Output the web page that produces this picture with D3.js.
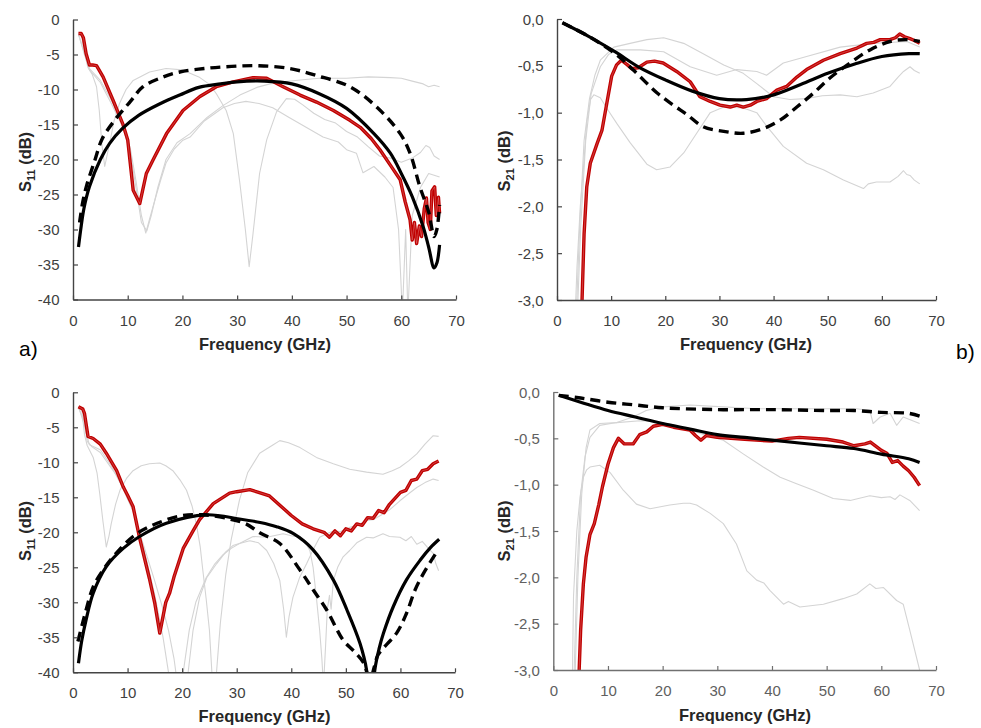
<!DOCTYPE html>
<html><head><meta charset="utf-8">
<script src="https://cdn.jsdelivr.net/npm/d3@7"></script>
<style>
body{margin:0;background:#fff}
svg{display:block}
text{font-family:"Liberation Sans",Arial,sans-serif}
</style>
</head><body>
<svg id="chart" width="981" height="728"></svg>
<script>
// ---------------- DATA (frequency GHz, value dB) ----------------
const xTicks = [0,10,20,30,40,50,60,70];
const s11Ticks = [-40,-35,-30,-25,-20,-15,-10,-5,0];
const s21Ticks = [-3,-2.5,-2,-1.5,-1,-0.5,0];

// Panel a) S11
const a_red = [[1,-2],[1.5,-2],[1.9,-2.6],[2.4,-4.9],[3,-6.5],[3.6,-6.5],[4.3,-6.6],[5.5,-8.2],[7.3,-11.5],[9.1,-14.9],[10,-17.2],[11,-24.4],[12.2,-26.3],[13.4,-22],[14.6,-20.1],[17.1,-16.3],[20.1,-13],[23.2,-11],[26.2,-9.6],[29.3,-8.9],[32.9,-8.3],[35.4,-8.4],[38.4,-9.6],[41.5,-10.8],[44.5,-11.8],[47.6,-13],[50.6,-14.4],[52.5,-15.4],[54.5,-17],[56.1,-18.6],[58,-20.8],[59.8,-22.9],[60.7,-26],[61.6,-28.6],[62,-31.5],[62.4,-29],[62.8,-32],[63.3,-29.5],[63.7,-31],[64.2,-27],[64.6,-25.5],[64.9,-29],[65.3,-30],[65.6,-24.5],[66.1,-23.9],[66.4,-28],[66.8,-25.4],[67,-27.7]];
const a_solid = [[1,-32.5],[1.5,-29.5],[2,-27],[3,-23.9],[5,-20],[6.7,-17.7],[9,-15.6],[12,-13.7],[16,-12],[19.5,-10.8],[23,-9.7],[27,-9.2],[30,-8.9],[35,-8.8],[40,-9.2],[45,-10.6],[50,-12.7],[55,-16.3],[58,-19.1],[60,-22],[62,-25.3],[64,-29.6],[65,-32.5],[66,-35.5],[66.5,-34.8],[67,-32.2]];
const a_dash = [[1.2,-29],[1.8,-26],[2.5,-23.7],[4,-20.1],[5.3,-17.1],[7.7,-14.3],[10.5,-11.7],[12.8,-9.6],[16.5,-8.2],[19.5,-7.5],[24,-7],[29,-6.7],[34,-6.6],[39.6,-7],[44.5,-8],[50.6,-9.6],[55.5,-12.5],[59.8,-16.3],[61.6,-19.1],[63.4,-23.9],[65,-27.5],[66,-31],[66.5,-30],[67,-26.5]];
const a_gray1 = [[1,-2],[1.5,-2.2],[2.2,-5],[2.7,-6.8],[3.5,-7.8],[4.3,-9.6],[4.8,-13],[5.3,-18],[5.8,-21],[6.2,-19.5],[6.7,-17.7],[7.5,-14.5],[8.5,-12],[9.7,-10],[11,-8.7],[14,-7.5],[17,-7],[20,-7.2],[23,-8.2],[25,-9.3],[26.2,-10.6],[28,-13],[29.3,-16.3],[30.5,-23.4],[31.5,-30],[32.2,-35.3],[32.9,-30.6],[34.1,-22],[35.4,-17.2],[37.2,-13.2],[39,-11.3],[40.5,-11.4],[42,-12.2],[44,-13.4],[46,-14.3],[48,-14.8],[50,-16],[52,-16.8],[54,-18.2],[56,-19.5],[58,-19.8],[60,-20.4],[62,-19.8],[63.5,-19],[64.5,-18],[65.2,-18.3],[66,-19.5],[67,-20]];
const a_gray2 = [[1,-2.2],[2,-4.5],[3,-7],[5,-8.7],[7,-11.5],[9,-14.8],[10.5,-18.5],[11.5,-23],[12.5,-28],[13.3,-30.5],[14,-28.5],[14.6,-26.8],[16,-23],[17,-20.5],[18.5,-18.5],[20,-17.3],[21.4,-16.8],[24,-14.5],[27.4,-12.6],[29.5,-12],[31.6,-11.7],[34,-12],[36.5,-12.6],[39.5,-14],[42.6,-15.4],[45.7,-16.8],[48.5,-17.5],[50,-18.6],[51.8,-19.1],[53,-21.9],[55,-21],[57,-22.5],[58.5,-24],[59.5,-30],[60.2,-42],[60.8,-30],[61.2,-42],[62,-28],[63.5,-24],[65,-22],[67,-22.5]];
const a_gray3 = [[1,-2],[2,-4.8],[3,-7.2],[5,-9],[7,-12],[9,-15.2],[10.5,-19],[11.5,-24],[12.5,-29],[13.5,-30.2],[14.3,-28],[15.5,-24],[17,-20],[19,-17.6],[21.4,-16.3],[24.5,-14],[27.4,-12.3],[30.5,-10.8],[33.6,-9.7],[36,-9.2],[38.4,-8.9],[42,-8.6],[45,-8.4],[50,-8.4],[54,-8.2],[58,-8.3],[60,-8.4],[62,-8.8],[64,-9.2],[65,-9.6],[66,-9.4],[67,-9.6]];

// Panel b) S21
const b_red = [[4.6,-3.05],[5,-2.3],[5.5,-1.79],[6.15,-1.54],[7.4,-1.33],[8.3,-1.19],[9.2,-0.9],[10.1,-0.61],[11,-0.49],[11.9,-0.44],[13,-0.49],[13.8,-0.53],[15,-0.52],[16.6,-0.46],[18,-0.45],[19.6,-0.47],[22.1,-0.56],[24.6,-0.67],[26.4,-0.83],[28.3,-0.88],[30.1,-0.92],[32,-0.94],[33.2,-0.92],[34.4,-0.94],[35.7,-0.92],[36.9,-0.88],[38.7,-0.85],[40.6,-0.76],[42.4,-0.72],[44.3,-0.62],[46.1,-0.54],[49.2,-0.44],[52.3,-0.37],[55.4,-0.31],[57.2,-0.26],[58.5,-0.25],[59.7,-0.22],[61.5,-0.22],[62.5,-0.2],[63.3,-0.16],[64.2,-0.19],[65.2,-0.21],[66,-0.23],[67,-0.26]];
const b_solid = [[1,-0.04],[6,-0.19],[11,-0.36],[15,-0.51],[20,-0.65],[25,-0.77],[30,-0.85],[35,-0.86],[40,-0.81],[45,-0.7],[50,-0.58],[55,-0.48],[60,-0.4],[65,-0.37],[67,-0.37]];
const b_dash = [[1,-0.04],[6,-0.19],[11,-0.38],[14.1,-0.545],[18.5,-0.79],[21.5,-0.92],[24,-1.02],[27,-1.15],[30.8,-1.2],[34.4,-1.22],[38.1,-1.17],[41.2,-1.08],[44.3,-0.94],[47.4,-0.79],[50.4,-0.63],[54.1,-0.47],[57.8,-0.33],[61.5,-0.24],[64.6,-0.22],[67,-0.24]];
const b_gray1 = [[3.4,-3.1],[3.7,-2.64],[4.3,-2],[4.9,-1.58],[5.5,-1.1],[6.2,-0.86],[6.8,-0.81],[8,-0.84],[9.5,-0.98],[11.1,-1.12],[13.5,-1.32],[16.6,-1.55],[18.4,-1.61],[20.9,-1.58],[23.4,-1.43],[25.8,-1.22],[28.3,-1.0],[30.8,-0.94],[34.4,-0.95],[36.9,-1.0],[38.8,-1.15],[41.8,-1.36],[46.1,-1.54],[49.2,-1.61],[52.9,-1.72],[56.6,-1.81],[57.5,-1.76],[59,-1.74],[61.5,-1.74],[63,-1.68],[64,-1.62],[64.6,-1.66],[65.2,-1.67],[66,-1.72],[67,-1.76]];
const b_gray2 = [[3.6,-3.1],[4.2,-2.2],[5,-1.3],[6,-0.85],[7,-0.6],[8,-0.44],[10.5,-0.3],[13.5,-0.26],[16.6,-0.22],[19.7,-0.2],[23.4,-0.26],[27,-0.37],[30.8,-0.49],[34.4,-0.58],[36.9,-0.69],[40,-0.83],[43,-0.86],[46,-0.85],[49,-0.82],[52.3,-0.81],[55.4,-0.83],[58.4,-0.79],[61.5,-0.72],[63,-0.62],[64,-0.56],[65.2,-0.51],[66,-0.55],[67,-0.58]];
const b_gray3 = [[3.8,-3.1],[4.4,-2.2],[5.3,-1.3],[6.3,-0.8],[8,-0.51],[9.5,-0.38],[11,-0.33],[15.4,-0.33],[19.7,-0.35],[24.6,-0.51],[29.5,-0.6],[33.2,-0.54],[36.9,-0.56],[38.7,-0.6],[41.8,-0.47],[46.1,-0.4],[52.3,-0.3],[58.4,-0.26],[64.6,-0.24],[67,-0.3]];

// Panel c) S11
const c_red = [[1,-2.05],[1.8,-2.4],[2.1,-3],[2.75,-6.3],[3.7,-6.6],[5,-7.4],[6.1,-8.7],[8,-11.2],[9.2,-13.5],[10,-14.7],[11,-16.3],[12.2,-20.8],[14,-26.6],[15,-30.2],[15.9,-34.4],[17,-30],[17.7,-28.7],[18.5,-26.4],[20.2,-22.3],[22,-19.8],[23.2,-18.2],[25.7,-15.9],[28.7,-14.4],[30,-14.2],[32.4,-13.9],[34,-14.3],[36,-14.8],[38,-16.2],[40,-17.6],[42,-18.8],[44,-19.5],[46,-20],[47,-20.7],[48,-19.8],[49,-20.5],[50,-19.5],[51,-19.8],[52,-18.8],[53,-19],[54,-17.9],[55,-18],[56,-16.9],[57,-17.2],[58,-16],[60,-14.3],[61,-14],[62,-12.6],[63,-12.4],[64,-11.2],[65,-11],[66,-10.2],[67,-9.8]];
const c_solid = [[1,-38.7],[1.6,-35.5],[2.4,-32.5],[3.7,-28.7],[6.1,-24.9],[9.2,-22.3],[12.2,-20.6],[17.1,-18.7],[24.4,-17.5],[30.5,-18.1],[34.3,-18.6],[37.3,-19.2],[40.4,-20.2],[44,-22.5],[47.7,-26.8],[50.2,-31.1],[52.6,-35.9],[53.8,-39.7],[54.5,-48],[55.3,-39.7],[56.1,-36.6],[56.9,-34.4],[58.7,-30.6],[61.1,-26.8],[63.6,-24],[65.5,-22.2],[67.1,-21]];
const c_dash = [[0.9,-35.6],[2.4,-31.1],[3.7,-27.8],[5.5,-25.4],[7.9,-23],[11,-20.6],[14,-19.2],[19.5,-17.7],[24,-17.5],[28.7,-18.1],[31.7,-18.8],[34.3,-20.1],[37.9,-21.6],[41.6,-25.4],[44,-28.2],[46.5,-31.1],[49.5,-35.4],[51.5,-37],[53.2,-38.6],[54.4,-41],[55.3,-39],[55.9,-37.5],[59.3,-34.4],[61.1,-31.6],[62.7,-28.2],[64.2,-25.9],[66.5,-23]];
const c_gray1 = [[1,-2],[1.6,-2.3],[2.1,-6],[2.6,-7.6],[3.7,-9.3],[4.4,-11.5],[4.9,-14.5],[5.5,-18.5],[6.1,-22.1],[6.6,-20.5],[7,-18.8],[7.8,-16],[8.6,-14],[9.8,-12.3],[11,-11.2],[12.5,-10.5],[14,-10.2],[15.9,-10.1],[17,-10.5],[18.3,-11.2],[19.6,-12.5],[20.8,-14],[21.8,-16.2],[22.6,-18.8],[23.3,-22],[23.8,-25.5],[24.4,-29.5],[25,-34],[25.6,-42],[26,-46],[26.3,-40],[27,-33],[28,-26],[29,-21],[30.5,-15.4],[32,-11.5],[34.2,-8.7],[36.7,-7.5],[37.9,-6.9],[39.5,-7.2],[41.6,-7.9],[44.6,-9.3],[47.7,-10.2],[50.7,-11],[53.8,-11.4],[56.8,-11.7],[58.5,-11.2],[59.9,-10.7],[61.5,-9.8],[63,-8.8],[64.5,-7.4],[66,-6.2],[67,-6.3]];
const c_gray2 = [[1,-2.2],[2,-4],[2.6,-7],[3.5,-7.8],[5,-8.6],[7,-10.8],[9,-13],[10.5,-15.5],[12,-19.5],[13.5,-24],[15,-29],[16.5,-35],[17.5,-40],[18.2,-45],[20.5,-45],[21.1,-40],[22,-34],[23.2,-29.3],[24.5,-26.5],[26.3,-24.5],[28,-22.8],[29.3,-21.9],[30.5,-21.6],[32.4,-21.2],[34,-21.5],[35.5,-22.6],[36.8,-24.5],[37.9,-26.9],[38.6,-31],[39.1,-35],[39.6,-32],[40.3,-29.3],[41.5,-26.5],[42.8,-24.5],[44,-22.5],[45.2,-20.7],[46.5,-20.2],[47.7,-19.8],[49,-19.9],[50.7,-19.3],[52,-19],[53.8,-18.3],[55,-18.2],[56.8,-17.4],[58,-16.8],[59.9,-15.5],[61.5,-14.5],[63,-13.6],[64.5,-12.9],[66,-12.4],[67,-12.6]];
const c_gray3 = [[1,-2],[2,-4.5],[3,-7.5],[5,-8.2],[7,-10.5],[9,-13.5],[11,-17],[13,-22],[15,-27],[16.5,-31],[17.5,-34],[18.5,-38],[19.2,-42],[19.8,-44],[20.2,-40],[21.3,-34],[22.5,-30],[24.4,-26.5],[26,-24.5],[27.5,-23.2],[29,-22.3],[30.5,-21.6],[33,-20.6],[35.5,-20.7],[38.5,-20.2],[40,-20.5],[41.6,-20.7],[42.6,-21.5],[43.4,-22.6],[44,-25],[44.6,-29.3],[45.2,-34],[45.6,-38],[45.9,-42],[46.3,-36],[46.6,-31],[47,-29],[47.3,-31],[47.7,-26.9],[48.5,-25],[49.5,-23.5],[50.7,-22.6],[52,-21.5],[53.8,-20.7],[55,-20.8],[56.8,-20.2],[58,-20.6],[59.9,-20.7],[61,-21.2],[62,-20.6],[63,-21.7],[64,-21.3],[65,-22.2],[66,-23],[66.5,-24.5],[67,-25.5]];

// Panel d) S21
const d_red = [[4.7,-3.05],[5,-2.57],[5.5,-2.07],[6,-1.78],[6.7,-1.54],[7.5,-1.42],[8.3,-1.22],[9,-1.02],[10,-0.78],[11,-0.6],[11.9,-0.5],[13,-0.56],[14.6,-0.56],[15.8,-0.46],[17.1,-0.43],[18.3,-0.37],[20,-0.35],[22,-0.38],[25,-0.41],[26,-0.47],[27,-0.52],[28,-0.47],[30,-0.49],[35,-0.51],[40,-0.53],[43,-0.5],[45,-0.49],[50,-0.51],[53,-0.54],[55,-0.58],[57,-0.56],[58,-0.54],[60,-0.63],[61,-0.66],[62,-0.76],[63,-0.74],[64,-0.8],[65,-0.85],[66,-0.92],[67,-1.01]];
const d_solid = [[1,-0.036],[5,-0.11],[10,-0.2],[15,-0.27],[20,-0.34],[25,-0.4],[30,-0.46],[35,-0.49],[40,-0.52],[45,-0.55],[50,-0.58],[55,-0.61],[60,-0.67],[65,-0.72],[67,-0.76]];
const d_dash = [[1,-0.036],[5,-0.065],[10,-0.11],[15,-0.14],[20,-0.17],[30,-0.19],[40,-0.19],[50,-0.2],[55,-0.2],[60,-0.22],[65,-0.23],[67,-0.26]];
const d_gray1 = [[3.5,-3.05],[3.7,-2.2],[4.3,-1.5],[4.9,-1.13],[5.5,-0.92],[6.1,-0.84],[6.7,-0.81],[8.5,-0.79],[10.4,-0.87],[12.8,-1.06],[15.2,-1.21],[17.7,-1.26],[21.3,-1.22],[23.8,-1.2],[25,-1.2],[26.2,-1.22],[28.7,-1.31],[31.1,-1.42],[33.5,-1.64],[35.4,-1.93],[37.2,-2.03],[38.5,-2.06],[39.6,-2.14],[42.1,-2.29],[43,-2.26],[45.1,-2.32],[49.4,-2.29],[53,-2.23],[55.5,-2.18],[57.9,-2.07],[59,-2.12],[60.4,-2.11],[62.8,-2.25],[64,-2.29],[65.2,-2.57],[67,-3.0]];
const d_gray2 = [[3.8,-3.05],[4.3,-2],[5,-1.1],[5.8,-0.7],[6.7,-0.49],[8.5,-0.36],[11.6,-0.33],[15.9,-0.31],[18.9,-0.32],[22,-0.36],[25,-0.41],[28,-0.47],[31.1,-0.52],[34.8,-0.67],[38.4,-0.81],[41.5,-0.92],[44.5,-0.99],[47.6,-1.06],[51.2,-1.15],[54.3,-1.17],[57.9,-1.12],[60,-1.14],[61.6,-1.13],[62.5,-1.16],[63.4,-1.11],[65.2,-1.17],[67,-1.28]];
const d_gray3 = [[4,-3.05],[4.5,-2],[5.2,-1.1],[6,-0.6],[6.7,-0.41],[8.5,-0.34],[11.6,-0.33],[14.6,-0.27],[17,-0.2],[20.1,-0.16],[25,-0.14],[31.1,-0.16],[37.2,-0.18],[43.3,-0.18],[49.4,-0.18],[55.5,-0.18],[57.9,-0.2],[58.5,-0.34],[59.8,-0.27],[61.6,-0.23],[62.8,-0.36],[64,-0.27],[67,-0.34]];

// ---------------- LAYOUT ----------------
const panels = [
  {key:'a', x0:73, x1:456, y0:19.5, y1:299.5, yDom:[-40,0], ticks:s11Ticks, comma:false, sub:'11',
   xt:[265,350], yt:[31,162], lab:'#404040', ax:'#444',
   gray:[a_gray1,a_gray2,a_gray3], red:a_red, dash:a_dash, solid:a_solid},
  {key:'b', x0:557, x1:936, y0:19, y1:300, yDom:[-3,0], ticks:s21Ticks, comma:true, sub:'21',
   xt:[746,350], yt:[510,161], lab:'#404040', ax:'#444',
   gray:[b_gray1,b_gray2,b_gray3], red:b_red, dash:b_dash, solid:b_solid},
  {key:'c', x0:73, x1:455, y0:392.3, y1:672.3, yDom:[-40,0], ticks:s11Ticks, comma:false, sub:'11',
   xt:[264.5,722], yt:[31,531], lab:'#404040', ax:'#444',
   gray:[c_gray1,c_gray2,c_gray3], red:c_red, dash:c_dash, solid:c_solid},
  {key:'d', x0:553.3, x1:936, y0:392, y1:670, yDom:[-3,0], ticks:s21Ticks, comma:true, sub:'21',
   xt:[745,721], yt:[510,531], lab:'#606060', ax:'#707070',
   gray:[d_gray1,d_gray2,d_gray3], red:d_red, dash:d_dash, solid:d_solid}
];

const svg = d3.select('#chart');

panels.forEach((p,i) => {
  const x = d3.scaleLinear().domain([0,70]).range([p.x0,p.x1]);
  const y = d3.scaleLinear().domain(p.yDom).range([p.y1,p.y0]);
  const g = svg.append('g');

  const cid = 'clip'+p.key;
  svg.append('clipPath').attr('id',cid).append('rect')
    .attr('x',p.x0).attr('y',p.y0-6).attr('width',p.x1-p.x0+4).attr('height',p.y1-p.y0+6);

  const line = d3.line().x(d=>x(d[0])).y(d=>y(d[1]));
  const smooth = d3.line().x(d=>x(d[0])).y(d=>y(d[1])).curve(d3.curveCatmullRom.alpha(0.5));
  const lines = g.append('g').attr('clip-path',`url(#${cid})`);

  p.gray.forEach(s => lines.append('path').attr('d',line(s))
     .attr('fill','none').attr('stroke','#d4d4d4').attr('stroke-width',1.1)
     .attr('stroke-linejoin','round'));
  lines.append('path').attr('d',line(p.red))
     .attr('fill','none').attr('stroke','#c00000').attr('stroke-width',3.4)
     .attr('stroke-linejoin','round');
  lines.append('path').attr('d',line(p.red))
     .attr('fill','none').attr('stroke','#f0c8c8').attr('stroke-width',0.6).attr('opacity',0.5);
  lines.append('path').attr('d',smooth(p.dash))
     .attr('fill','none').attr('stroke','#000').attr('stroke-width',3.4)
     .attr('stroke-dasharray','10,6');
  lines.append('path').attr('d',smooth(p.solid))
     .attr('fill','none').attr('stroke','#000').attr('stroke-width',3.2);

  const fmt = p.comma ? (v => v.toFixed(1).replace('.',',')) : (v => String(v));

  // x axis
  const xa = g.append('g').attr('transform',`translate(0,${p.y1})`)
    .call(d3.axisBottom(x).tickValues(xTicks).tickSizeInner(-4).tickSizeOuter(0).tickFormat(v=>String(v)));
  xa.select('.domain').attr('stroke',p.ax).attr('stroke-width',1.4);
  xa.selectAll('.tick line').attr('stroke',p.ax).attr('stroke-width',1.2);
  xa.selectAll('.tick text').attr('y',15.5).attr('dy','0.71em')
    .attr('font-size',15).attr('fill',p.lab).attr('font-family','"Liberation Sans",Arial,sans-serif');

  // y axis
  const ya = g.append('g').attr('transform',`translate(${p.x0},0)`)
    .call(d3.axisLeft(y).tickValues(p.ticks).tickSizeInner(-5).tickSizeOuter(0).tickFormat(fmt));
  ya.select('.domain').attr('stroke',p.ax).attr('stroke-width',1.4);
  ya.selectAll('.tick line').attr('stroke',p.ax).attr('stroke-width',1.2);
  ya.selectAll('.tick text').attr('x',-13.5).attr('dy','0.34em')
    .attr('font-size',15).attr('fill',p.lab).attr('font-family','"Liberation Sans",Arial,sans-serif');

  // titles
  g.append('text').attr('x',p.xt[0]).attr('y',p.xt[1]).attr('text-anchor','middle')
    .attr('font-size',16.5).attr('font-weight','bold').attr('fill','#262626')
    .text('Frequency (GHz)');
  const yt = g.append('text').attr('transform',`translate(${p.yt[0]},${p.yt[1]}) rotate(-90)`)
    .attr('text-anchor','middle').attr('font-size',16.5).attr('font-weight','bold').attr('fill','#262626');
  yt.append('tspan').text('S');
  yt.append('tspan').attr('font-size',11).attr('dy',4).text(p.sub);
  yt.append('tspan').attr('dy',-4).text(' (dB)');
});

svg.append('text').attr('x',19).attr('y',356).attr('font-size',21).attr('fill','#000').text('a)');
svg.append('text').attr('x',956).attr('y',359).attr('font-size',21).attr('fill','#000').text('b)');
</script>
</body></html>
